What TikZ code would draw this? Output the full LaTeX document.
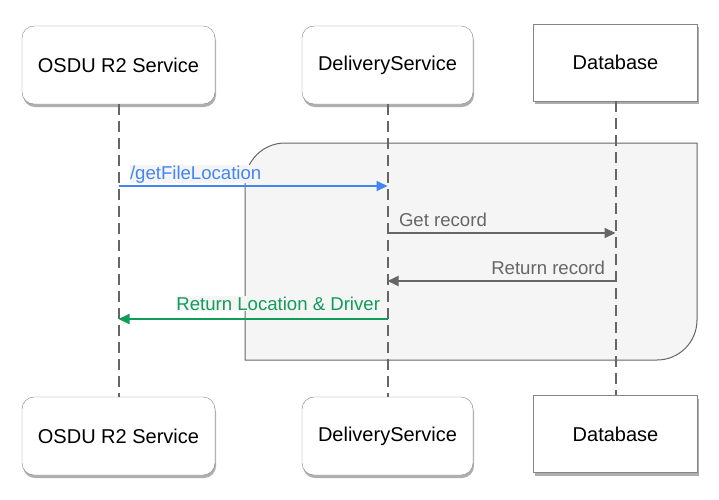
\documentclass[tikz,border=0pt]{standalone}
\usepackage{fontspec}
\setmainfont{Liberation Sans}
\usetikzlibrary{arrows.meta,positioning,shadows}

\definecolor{msgblue}{HTML}{4285F4}
\definecolor{msggreen}{HTML}{0F9D58}
\definecolor{linegray}{HTML}{666666}
\definecolor{groupfill}{HTML}{F5F5F5}

\tikzset{
  actor/.style={draw=linegray!80, fill=white, rounded corners=12pt,
    minimum height=78pt, font=\fontsize{20}{24}\selectfont,
    drop shadow={shadow xshift=1pt, shadow yshift=-3pt, opacity=.45, fill=black!70}},
  store/.style={actor, rounded corners=0pt, minimum height=77pt},
  life/.style={draw=linegray, line width=2pt, dash pattern=on 11pt off 6pt},
  msg/.style={->, line width=2pt},
  lbl/.style={font=\fontsize{18.6}{22}\selectfont, fill=groupfill, inner sep=0.5pt}
}

\begin{document}
\begin{tikzpicture}[>={Triangle[length=11pt,width=10pt]},x=1pt,y=-1pt]
  \useasboundingbox (0,0) rectangle (719,499);

  % group box
  \draw[draw=linegray, line width=1pt, fill=groupfill]
    (245,360) -- (245,250) [rounded corners=40pt] -- (245,143) -- (450,143)
    [sharp corners] -- (697,143) -- (697,250) [rounded corners=40pt]
    -- (697,360) -- (450,360) [sharp corners] -- cycle;

  % participants
  \node[actor, minimum width=193pt] (osdu) at (118.5,65) {OSDU R2 Service};
  \node[actor, minimum width=171pt] (deliv) [right of=osdu, node distance=269pt] {DeliveryService};
  \node[store, minimum width=164pt] (db) [right of=deliv, node distance=228pt, yshift=2.5pt] {Database};
  \node[actor, minimum width=193pt] (osduB) [below of=osdu, node distance=371pt] {OSDU R2 Service};
  \node[actor, minimum width=171pt] (delivB) [below of=deliv, node distance=371pt] {DeliveryService};
  \node[store, minimum width=164pt] (dbB) [below of=db, node distance=371.5pt] {Database};

  % lifelines
  \draw[life] (osdu) -- (osduB);
  \draw[life] (deliv) -- (delivB);
  \draw[life] (db) -- (dbB);

  \coordinate (m1) at (0,186);
  \coordinate (m2) at (0,233);
  \coordinate (m3) at (0,281);
  \coordinate (m4) at (0,319);

  % messages
  \draw[msg, msgblue] (osdu |- m1) -- (deliv |- m1)
    node[lbl, pos=0, anchor=base west, xshift=10pt, yshift=7pt, text=msgblue] {/getFileLocation};
  \draw[msg, linegray] (deliv |- m2) -- (db |- m2)
    node[lbl, pos=0, anchor=base west, xshift=10pt, yshift=7pt, text=linegray] {Get record};
  \draw[msg, linegray] (db |- m3) -- (deliv |- m3)
    node[lbl, pos=0, anchor=base east, xshift=-9pt, yshift=7pt, text=linegray] {Return record};
  \draw[msg, msggreen] (deliv |- m4) -- (osdu |- m4)
    node[lbl, pos=0, anchor=base east, xshift=-6pt, yshift=9pt, text=msggreen] {Return Location \& Driver};
\end{tikzpicture}
\end{document}
